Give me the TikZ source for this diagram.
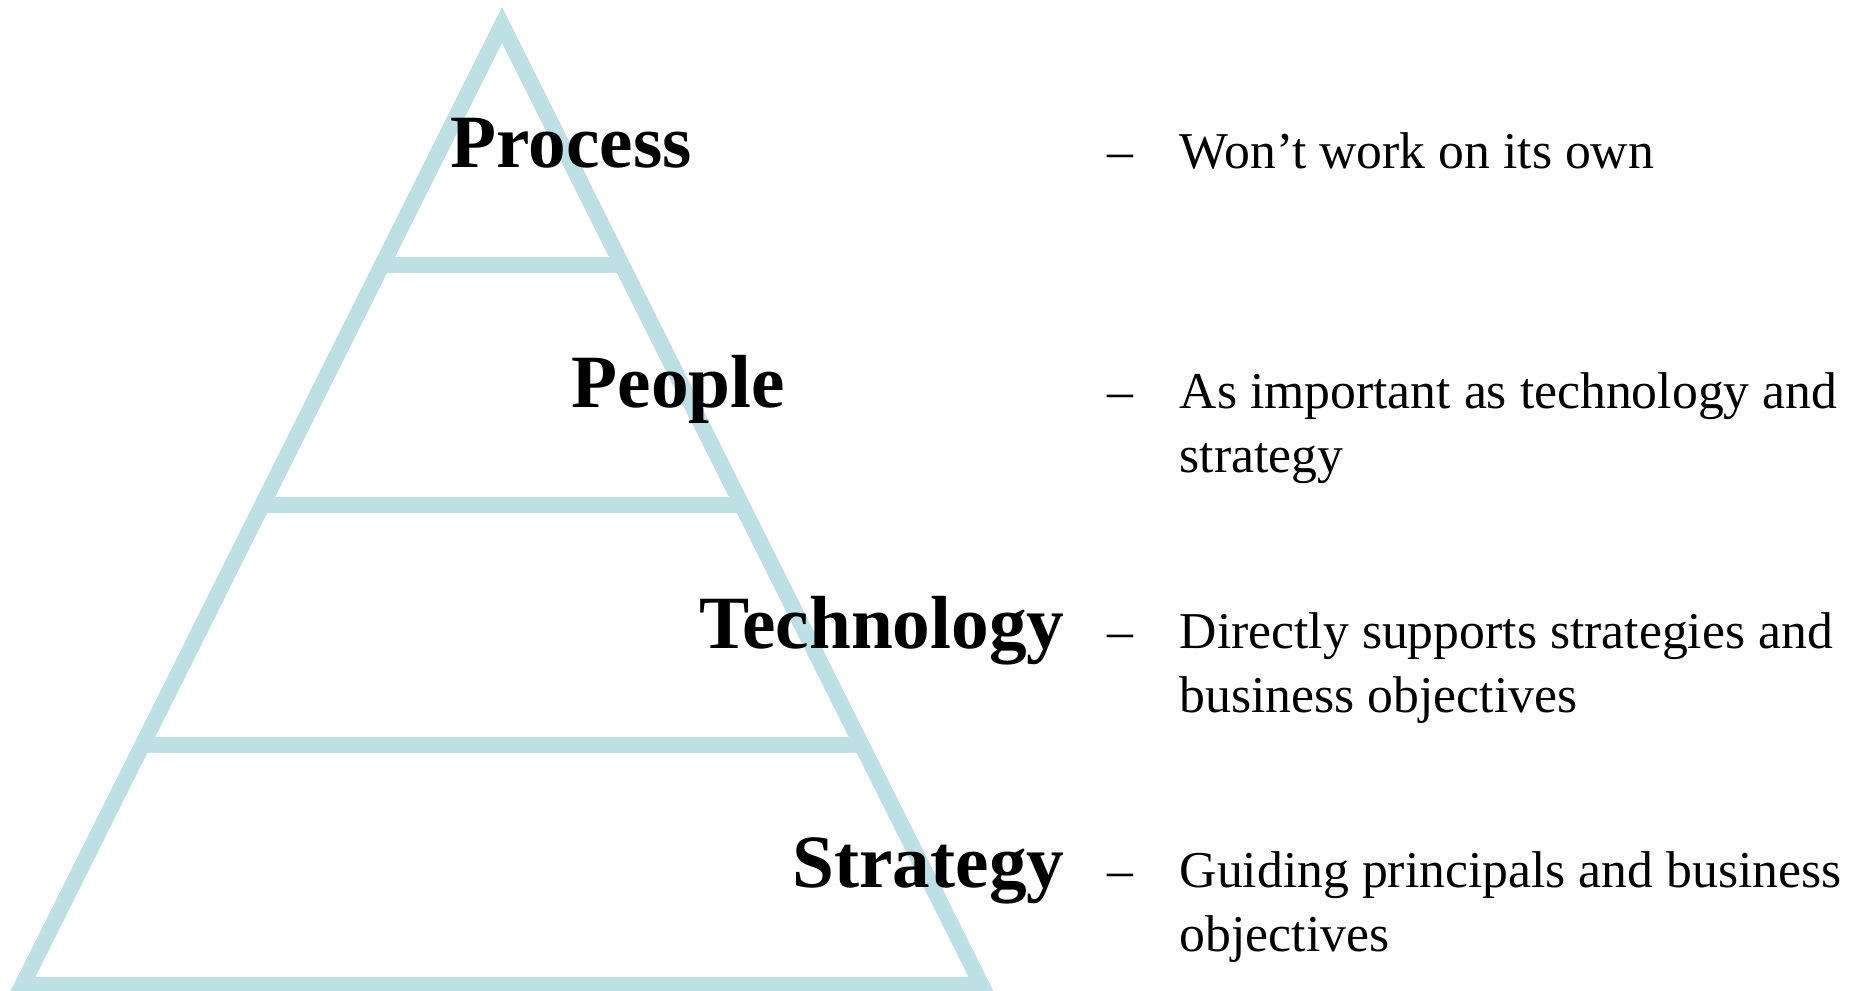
\documentclass[tikz,border=0pt]{standalone}
\usepackage{fontspec}
\setmainfont{Liberation Serif}
\usepackage{xcolor}
\usetikzlibrary{calc}
\definecolor{pyrblue}{RGB}{188,224,228}
\newcommand{\twolines}[2]{\vtop{\hbox{#1}\hbox{#2}}}
\tikzset{
  pyrline/.style={color=pyrblue,line width=0.16cm,line join=miter},
  layername/.style={inner sep=0pt,font=\fontsize{21.4pt}{24pt}\selectfont\bfseries},
  layerdash/.style={inner sep=0pt,font=\fontsize{14.7pt}{18.2pt}\selectfont},
  layertext/.style={inner sep=0pt,font=\fontsize{14.7pt}{18.2pt}\selectfont}
}

\begin{document}
\begin{tikzpicture}[x=0.01cm,y=-0.01cm]
\useasboundingbox (0,0) rectangle (1854,991);

%pyramid
\coordinate (apex) at (502,25);
\coordinate (bl) at (22.5,985);
\coordinate (br) at (981.5,985);
\clip (0,0) rectangle (1854,991);
\draw [pyrline] (apex) -- (bl) -- (br) -- cycle;

%layer lines
\foreach \f/\n in {0.25/1,0.5/2,0.75/3}{
  \coordinate (l\n) at ($(apex)!\f!(bl)$);
  \coordinate (r\n) at ($(apex)!\f!(br)$);
  \draw [pyrline] (l\n) -- (r\n);
}

%Process
\node [layername,anchor=base west] (process) at (450,168) {Process};
\node [layerdash,anchor=base west] (d1) at (1107,169) {–};
\node [layertext,anchor=base west] (t1) at (1179,169) {Won’t work on its own};

%People
\node [layername,anchor=base west] (people) at (571,407) {People};
\node [layerdash,anchor=base west] (d2) at (1107,408) {–};
\node [layertext,anchor=base west] (t2) at (1179,408) {\twolines{As important as technology and}{strategy}};

%Technology
\node [layername,anchor=base east] (technology) at (1065,648) {Technology};
\node [layerdash,anchor=base west] (d3) at (1107,648) {–};
\node [layertext,anchor=base west] (t3) at (1179,648) {\twolines{Directly supports strategies and}{business objectives}};

%Strategy
\node [layername,anchor=base east] (strategy) at (1065,887) {Strategy};
\node [layerdash,anchor=base west] (d4) at (1107,887) {–};
\node [layertext,anchor=base west] (t4) at (1179,887) {\twolines{Guiding principals and business}{objectives}};
\end{tikzpicture}
\end{document}
